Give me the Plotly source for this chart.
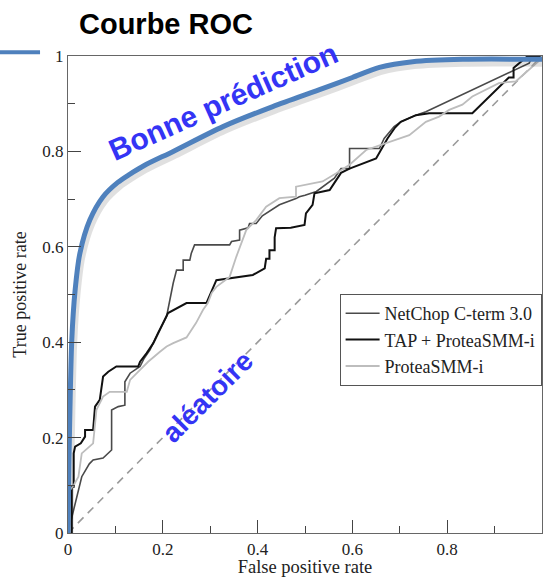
import plotly.graph_objects as go

# ---------------- data ----------------
netchop_fpr = [0, 0.029, 0.045, 0.053, 0.074, 0.092, 0.092, 0.106, 0.12, 0.12, 0.131, 0.152, 0.16, 0.173,
               0.19, 0.208, 0.222, 0.229, 0.243, 0.243, 0.257, 0.26, 0.267, 0.341, 0.345, 0.362, 0.362,
               0.38, 0.383, 0.397, 0.41, 0.418, 0.446, 0.481, 0.488, 0.5, 0.524, 0.562, 0.576, 0.594,
               0.594, 0.657, 0.667, 0.688, 0.702, 0.734, 0.755, 0.973, 0.98, 1.0]
netchop_tpr = [0, 0.118, 0.145, 0.153, 0.157, 0.174, 0.258, 0.265, 0.268, 0.317, 0.335, 0.349, 0.365, 0.384,
               0.42, 0.454, 0.524, 0.551, 0.551, 0.572, 0.572, 0.586, 0.604, 0.604, 0.611, 0.614, 0.635,
               0.64, 0.649, 0.649, 0.665, 0.67, 0.688, 0.701, 0.705, 0.708, 0.716, 0.744, 0.764, 0.764,
               0.806, 0.806, 0.827, 0.852, 0.862, 0.876, 0.883, 0.985, 1.0, 1.0]

tap_fpr = [0, 0.008, 0.008, 0.012, 0.012, 0.015, 0.027, 0.036, 0.036, 0.053, 0.057, 0.067, 0.074, 0.085,
           0.102, 0.148, 0.152, 0.166, 0.18, 0.187, 0.211, 0.25, 0.292, 0.313, 0.341, 0.39, 0.415, 0.418,
           0.425, 0.425, 0.436, 0.436, 0.439, 0.47, 0.499, 0.502, 0.516, 0.52, 0.552, 0.576, 0.594, 0.65,
           0.674, 0.69, 0.702, 0.734, 0.762, 0.853, 0.93, 0.94, 0.94, 0.97, 1.0]
tap_tpr = [0, 0, 0.097, 0.097, 0.167, 0.181, 0.188, 0.202, 0.216, 0.216, 0.265, 0.279, 0.328, 0.338,
           0.349, 0.349, 0.359, 0.377, 0.398, 0.412, 0.461, 0.482, 0.482, 0.53, 0.534, 0.541, 0.555, 0.575,
           0.575, 0.593, 0.593, 0.62, 0.639, 0.64, 0.646, 0.67, 0.688, 0.712, 0.719, 0.755, 0.764, 0.785,
           0.827, 0.85, 0.862, 0.876, 0.88, 0.88, 0.955, 0.955, 0.975, 1.0, 1.0]

smm_fpr = [0, 0.004, 0.004, 0.012, 0.022, 0.029, 0.053, 0.06, 0.074, 0.088, 0.124, 0.131, 0.152, 0.169,
           0.194, 0.208, 0.222, 0.25, 0.27, 0.285, 0.295, 0.303, 0.313, 0.341, 0.355, 0.376, 0.397, 0.418,
           0.446, 0.481, 0.481, 0.537, 0.566, 0.594, 0.629, 0.657, 0.692, 0.72, 0.755, 0.783, 0.804,
           0.832, 0.853, 0.881, 0.909, 0.945, 0.973, 0.994, 1.0]
smm_tpr = [0, 0, 0.09, 0.1, 0.118, 0.167, 0.188, 0.258, 0.286, 0.296, 0.296, 0.321, 0.342, 0.359,
           0.38, 0.391, 0.398, 0.41, 0.44, 0.468, 0.482, 0.503, 0.516, 0.537, 0.579, 0.635, 0.656, 0.684,
           0.702, 0.705, 0.726, 0.737, 0.754, 0.772, 0.803, 0.813, 0.824, 0.834, 0.862, 0.873, 0.887,
           0.898, 0.915, 0.929, 0.943, 0.947, 0.971, 0.99, 1.0]

good_fpr = [0, 0.002, 0.008, 0.015, 0.025, 0.046, 0.074, 0.105, 0.13, 0.16, 0.222, 0.327, 0.432, 0.538,
            0.60, 0.657, 0.727, 0.832, 1.0]
good_tpr = [0, 0.15, 0.405, 0.509, 0.586, 0.656, 0.705, 0.735, 0.752, 0.77, 0.8, 0.852, 0.894, 0.932,
            0.955, 0.976, 0.988, 0.993, 0.993]

random_fpr = [0, 1]
random_tpr = [0, 1]

series_names = ["NetChop C-term 3.0", "TAP + ProteaSMM-i", "ProteaSMM-i"]
tick_vals = [0, 0.2, 0.4, 0.6, 0.8, 1]
tick_text = ["0", "0.2", "0.4", "0.6", "0.8", "1"]

# ---------------- figure ----------------
fig = go.Figure()

fig.add_trace(go.Scatter(x=random_fpr, y=random_tpr, mode="lines", showlegend=False,
                         line=dict(color="#9a9a9a", width=1.6, dash="8px,6px")))
fig.add_trace(go.Scatter(x=netchop_fpr, y=netchop_tpr, mode="lines", name=series_names[0],
                         line=dict(color="#4a4a4a", width=1.6)))
fig.add_trace(go.Scatter(x=tap_fpr, y=tap_tpr, mode="lines", name=series_names[1],
                         line=dict(color="#111111", width=2.0)))
fig.add_trace(go.Scatter(x=smm_fpr, y=smm_tpr, mode="lines", name=series_names[2],
                         line=dict(color="#bdbdbd", width=1.8)))

# shadow of the "good prediction" curve
fig.add_trace(go.Scatter(x=[v + 0.004 for v in good_fpr], y=[v - 0.008 for v in good_tpr],
                         mode="lines", showlegend=False,
                         line=dict(color="rgba(0,0,0,0.12)", width=7, shape="spline", smoothing=0.8)))
fig.add_trace(go.Scatter(x=good_fpr, y=good_tpr, mode="lines", showlegend=False,
                         line=dict(color="#4f81bd", width=5, shape="spline", smoothing=0.8)))

serif = "Liberation Serif, Times New Roman, serif"

axis_common = dict(
    range=[0, 1], tickvals=tick_vals, ticktext=tick_text, ticks="inside", ticklen=13, tickwidth=1.2,
    tickcolor="#444", showline=True, linecolor="#666", linewidth=1.2, mirror=True, showgrid=False,
    zeroline=False, tickfont=dict(family=serif, size=17, color="#222"), automargin=False,
    minor=dict(ticks="inside", ticklen=7, dtick=0.1, tickcolor="#444", tickwidth=1.2),
)

fig.update_layout(
    width=543, height=577,
    margin=dict(l=68, r=1, t=56, b=44),
    paper_bgcolor="white", plot_bgcolor="white",
    xaxis=dict(**axis_common, title=dict(text="False positive rate", standoff=0,
                                         font=dict(family=serif, size=18.5, color="#222"))),
    yaxis=dict(**axis_common, title=dict(text="True positive rate", standoff=10,
                                         font=dict(family=serif, size=18, color="#222"))),
    legend=dict(x=0.573, y=0.501, xanchor="left", yanchor="top", bordercolor="#555", borderwidth=1,
                bgcolor="white", font=dict(family=serif, size=18, color="#222"),
                tracegroupgap=0, itemwidth=34),
    showlegend=True,
)

fig.add_annotation(text="<b>Courbe ROC</b>", xref="paper", yref="paper", x=0.207, y=1.067,
                   showarrow=False, xanchor="center", yanchor="middle",
                   font=dict(family="Liberation Sans, Arial, sans-serif", size=29, color="black"))
fig.add_annotation(text="<b>Bonne prédiction</b>", xref="x", yref="y", x=0.327, y=0.904,
                   showarrow=False, textangle=-24,
                   font=dict(family="Liberation Sans, Arial, sans-serif", size=30, color="#3434f5"))
fig.add_annotation(text="<b>aléatoire</b>", xref="x", yref="y", x=0.295, y=0.286,
                   showarrow=False, textangle=-45,
                   font=dict(family="Liberation Sans, Arial, sans-serif", size=28, color="#3434f5"))

# decorative blue dash at top-left outside the plot
fig.add_shape(type="line", xref="paper", yref="paper", x0=-0.1435, x1=-0.059, y0=1.008, y1=1.008,
              line=dict(color="#4f81bd", width=4))

fig.write_html("out.html", config={"displayModeBar": False},
               post_script="document.body.style.margin='0';document.body.style.overflow='hidden';")
